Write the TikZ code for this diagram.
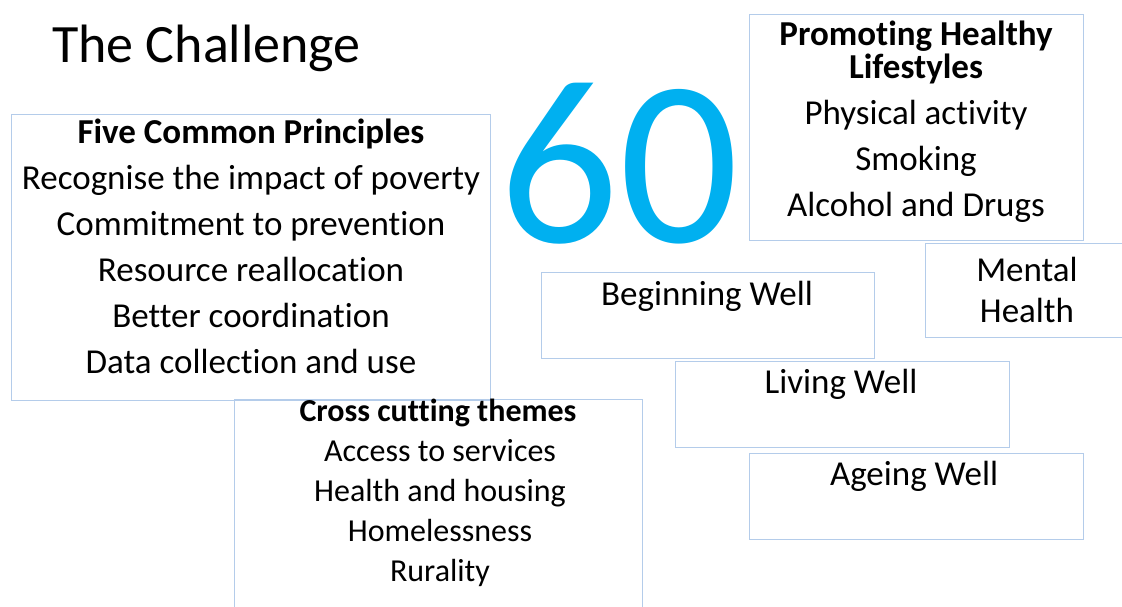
\documentclass[tikz,border=0pt]{standalone}
\usepackage{fontspec}
\setmainfont{Carlito}[Ligatures=NoCommon]
\usetikzlibrary{positioning}
\definecolor{boxblue}{RGB}{180,204,234}
\definecolor{sixtyblue}{RGB}{0,176,240}

\tikzset{
  panel/.style={draw=boxblue, line width=1.2pt, inner sep=0pt, anchor=north west},
  entry/.style={anchor=base, inner sep=0pt, font=\fontsize{35}{40}\selectfont},
  smallentry/.style={entry, font=\fontsize{32}{37}\selectfont},
  heading/.style={entry, font=\fontsize{35}{40}\selectfont\bfseries},
  smallheading/.style={entry, font=\fontsize{32}{37}\selectfont\bfseries}
}

\begin{document}
\begin{tikzpicture}[x=1pt, y=-1pt]
\clip (0,0) rectangle (1122,606);
\fill[white] (0,0) rectangle (1122,606);

% title and the big number
\node[anchor=base west, inner sep=0pt, font=\fontsize{54}{60}\selectfont] (title) at (52,62) {The Challenge};
\node[anchor=base, inner sep=0pt, text=sixtyblue, font=\fontsize{236}{240}\selectfont] (sixty) at (619,242) {60};

% principles
\node[panel, minimum width=479pt, minimum height=286pt] (fcp) at (11,114) {};
\node[heading] (fcp-title) at (251,143) {Five Common Principles};
\foreach \txt [count=\i] in {Recognise the impact of poverty, Commitment to prevention,
    Resource reallocation, Better coordination, Data collection and use}
  \node[entry] (fcp-\i) at (251,{143+46*\i}) {\txt};

% cross cutting
\node[panel, minimum width=408pt, minimum height=230pt] (cct) at (234,399) {};
\node[smallheading] (cct-title) at (438,421) {Cross cutting themes};
\foreach \txt [count=\i] in {Access to services, Health and housing, Homelessness, Rurality}
  \node[smallentry] (cct-\i) at (440,{421+40*\i}) {\txt};

% lifestyles
\node[panel, minimum width=334pt, minimum height=226pt] (phl) at (749,14) {};
\node[heading] (phl-title) at (916,45) {Promoting Healthy};
\node[heading] (phl-title2) at (916,78) {Lifestyles};
\foreach \txt [count=\i] in {Physical activity, Smoking, Alcohol and Drugs}
  \node[entry] (phl-\i) at (916,{78+46*\i}) {\txt};

% mental health
\node[panel, minimum width=220pt, minimum height=94pt] (mh) at (925,243) {};
\node[entry] (mh-1) at (1027,281) {Mental};
\node[entry] (mh-2) at (1027,322) {Health};

% life stages
\node[panel, minimum width=333pt, minimum height=86pt] (bw) at (541,272) {};
\node[entry] (bw-txt) at (707,305) {Beginning Well};
\node[panel, minimum width=334pt, minimum height=86pt] (lw) at (675,361) {};
\node[entry] (lw-txt) at (841,393) {Living Well};
\node[panel, minimum width=334pt, minimum height=86pt] (aw) at (749,453) {};
\node[entry] (aw-txt) at (914,485) {Ageing Well};
\end{tikzpicture}
\end{document}
